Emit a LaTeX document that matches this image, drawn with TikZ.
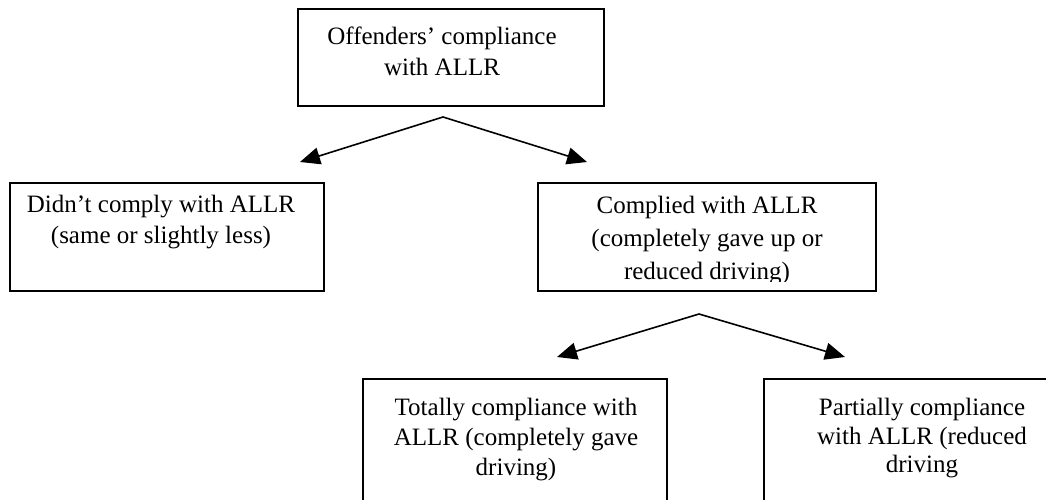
\documentclass[tikz,border=0pt]{standalone}
\usepackage{fontspec}
\setmainfont{Liberation Serif}
\usetikzlibrary{arrows.meta}
\begin{document}
\begin{tikzpicture}[x=1pt,y=-1pt,
  box/.style={draw=black, line width=2.7pt, rectangle, inner sep=0pt},
  label/.style={anchor=north, inner sep=0pt, align=center,
    font=\fontsize{25pt}{#1}\selectfont},
  label/.default=30.5pt,
  link/.style={line width=1.6pt, -{Triangle[length=20pt,width=17pt]}}]
  \useasboundingbox (0,0) rectangle (1046,499);
  \clip (0,0) rectangle (1046,499);

  % boxes
  \node[box, minimum width=306pt, minimum height=97pt]  (root)    at (451,57.5) {};
  \node[box, minimum width=314pt, minimum height=108pt] (nocomp)  at (167,237) {};
  \node[box, minimum width=338pt, minimum height=108pt] (comp)    at (707,237) {};
  \node[box, minimum width=304pt, minimum height=160pt] (total)   at (515,459) {};
  \node[box, minimum width=306pt, minimum height=160pt] (partial) at (917,459) {};

  % box texts
  \node[label] (rootT) at (442,27) {Offenders’ compliance\\with ALLR};
  \node[label] (nocompT) at (161,195) {Didn’t comply with ALLR\\(same or slightly less)};
  \begin{scope}
    \clip (540,185) rectangle (874,281);
    \node[label=33pt] (compT) at (707,196) {Complied with ALLR\\(completely gave up or\\reduced driving)};
  \end{scope}
  \node[label=30pt] (totalT) at (516,398) {Totally compliance with\\ALLR (completely gave\\driving)};
  \node[label=28.5pt] (partialT) at (922,398) {Partially compliance\\with ALLR (reduced\\driving};

  % branch points and arrow ends
  \coordinate (s1) at (443,117);
  \coordinate (e1a) at (300,162);
  \coordinate (e1b) at (587,162);
  \coordinate (s2) at (699,314);
  \coordinate (e2a) at (557,357);
  \coordinate (e2b) at (845,357);

  \draw[link] (s1) -- (e1a);
  \draw[link] (s1) -- (e1b);
  \draw[link] (s2) -- (e2a);
  \draw[link] (s2) -- (e2b);
\end{tikzpicture}
\end{document}
